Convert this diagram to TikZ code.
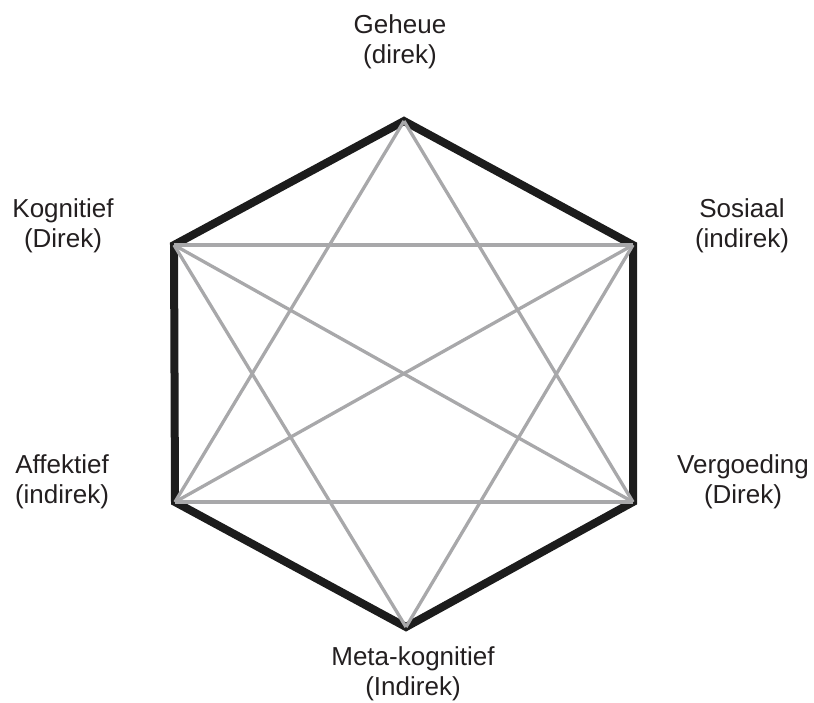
\documentclass[tikz,border=0pt]{standalone}
\usepackage{fontspec}
\setmainfont{Liberation Sans}
\definecolor{rimblack}{HTML}{1C1C1C}
\definecolor{chordgray}{HTML}{A8A8AA}
\definecolor{txtgray}{HTML}{231F20}
\begin{document}
\begin{tikzpicture}[x=1pt, y=-1pt, rim/.style = {draw=rimblack, line width=8pt, line join=miter}, chord/.style = {draw=chordgray, line width=3.3pt}, lbl/.style = {align=center, text=txtgray, font=\fontsize{26}{30.5}\selectfont}]
        \useasboundingbox (0,0) rectangle (814,702);
        \coordinate (1) at (404,121);
        \coordinate (2) at (174,245);
        \coordinate (3) at (633,245);
        \coordinate (4) at (175,502);
        \coordinate (5) at (633,502);
        \coordinate (6) at (406,627);
        \draw[rim] (1) -- (2) -- (4) -- (6) -- (5) -- (3) -- cycle;
        \foreach \a/\b in {1/4, 1/5, 2/3, 4/5, 2/6, 3/6, 2/5, 3/4}
            \draw[chord] (\a) -- (\b);
        \node[lbl] (geheue) at (400,42) {Geheue\\(direk)};
        \node[lbl] (kognitief) at (63,226) {Kognitief\\(Direk)};
        \node[lbl] (sosiaal) at (742,226) {Sosiaal\\(indirek)};
        \node[lbl] (affektief) at (62,482) {Affektief\\(indirek)};
        \node[lbl] (vergoeding) at (743,482) {Vergoeding\\(Direk)};
        \node[lbl] (meta) at (413,674) {Meta-kognitief\\(Indirek)};
    \end{tikzpicture}
\end{document}
